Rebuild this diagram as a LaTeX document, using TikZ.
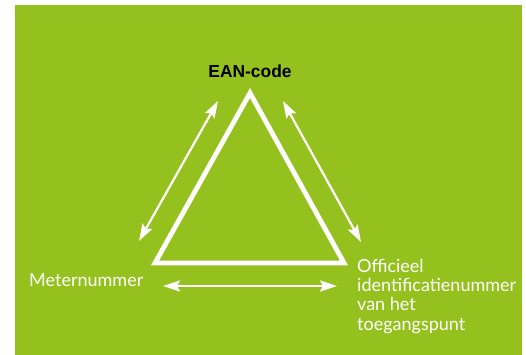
\documentclass[tikz,border=0pt]{standalone}
\usepackage{fontspec}
\setmainfont{Lato}
\newfontfamily\boldsans{Liberation Sans}
\usetikzlibrary{arrows.meta}
\definecolor{bggreen}{HTML}{95C11F}
\begin{document}
\begin{tikzpicture}[x=1pt,y=-1pt,
  lbl/.style={text=white,font=\fontsize{18}{19.2}\selectfont,inner sep=0pt},
  dbl/.style={draw=white,line width=2.2pt,{Stealth[length=17pt,width=11pt,inset=3pt]}-{Stealth[length=17pt,width=11pt,inset=3pt]}}]
\useasboundingbox (0,0) rectangle (526,355);
\fill[white] (0,0) rectangle (526,355);
\fill[bggreen] (15,5) rectangle (521.7,355);
% triangle
\coordinate (ta) at (250,93);
\coordinate (tl) at (155,263);
\coordinate (tr) at (344,263);
\draw[white,line width=4.8pt,miter limit=10] (ta) -- (tl) -- (tr) -- cycle;
% labels
\node[font=\boldsans\bfseries\fontsize{17.4}{20}\selectfont,inner sep=0pt,anchor=base] (ean) at (250,78) {EAN-code};
\node[lbl,anchor=base west] (meter) at (29,286) {Meternummer};
\node[lbl,anchor=base west,align=left] (off) at (357,330) {Officieel\\identificatienummer\\van het\\toegangspunt};
% arrows
\coordinate (l1) at (139,241);
\coordinate (l2) at (218,101);
\coordinate (r1) at (283,101);
\coordinate (r2) at (361,242);
\coordinate (b1) at (163,286);
\coordinate (b2) at (337,286);
\draw[dbl] (l1) -- (l2);
\draw[dbl] (r1) -- (r2);
\draw[dbl] (b1) -- (b2);
\end{tikzpicture}
\end{document}
